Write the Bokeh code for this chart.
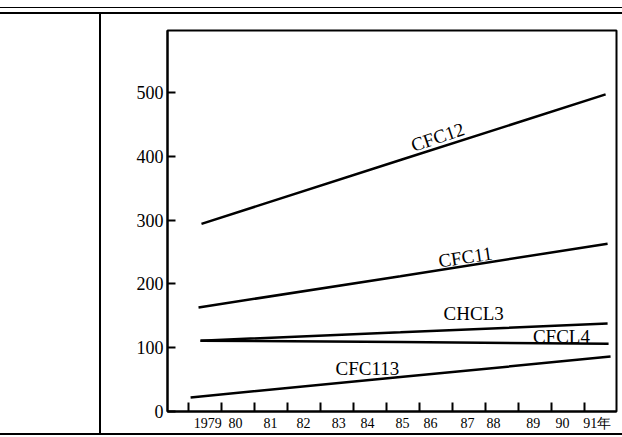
from bokeh.plotting import figure
from bokeh.models import FixedTicker, Div, ColumnDataSource
from bokeh.layouts import column, row
from bokeh.core.properties import value
from bokeh.embed import file_html
from bokeh.resources import INLINE

# ---- data ----
years = [1979, 1980, 1981, 1982, 1983, 1984, 1985, 1986, 1987, 1988, 1989, 1990, 1991]
year_label_pos = [1979.58, 1980.42, 1981.48, 1982.48, 1983.55, 1984.42, 1985.48,
                  1986.33, 1987.45, 1988.24, 1989.45, 1990.33, 1991.39]
year_labels = ["1979", "80", "81", "82", "83", "84", "85", "86", "87", "88", "89", "90", "91年"]
y_ticks = [0, 100, 200, 300, 400, 500]

cfc12_x = [1979.39, 1985.42, 1991.64]
cfc12_y = [294, 394, 497]
cfc11_x = [1979.30, 1985.42, 1991.70]
cfc11_y = [163, 212, 263]
chcl3_x = [1979.36, 1985.42, 1991.70]
chcl3_y = [111, 124, 138]
cfcl4_x = [1979.36, 1985.42, 1991.73]
cfcl4_y = [111, 109, 106]
cfc113_x = [1979.06, 1985.42, 1991.79]
cfc113_y = [22, 54, 86]

label_names = ["CFC12", "CFC11", "CHCL3", "CFCL4", "CFC113"]
label_x = [1986.55, 1987.39, 1987.64, 1990.30, 1984.42]
label_y = [430, 242, 153, 117, 67]
label_angle = [0.33, 0.15, 0.0, 0.0, 0.0]

SERIF = "Liberation Serif"

p = figure(width=521, height=419, x_range=(1978.36, 1991.97), y_range=(0, 597),
           output_backend="svg", toolbar_location=None,
           min_border_left=66, min_border_right=6, min_border_top=16, min_border_bottom=21)
p.margin = 0
p.grid.visible = False
p.outline_line_color = "black"
p.outline_line_width = 2
p.background_fill_color = "white"
p.border_fill_color = "white"

# y axis
ya = p.yaxis[0]
ya.ticker = FixedTicker(ticks=y_ticks)
ya.axis_line_width = 2
ya.major_tick_in = 8
ya.major_tick_out = 0
ya.major_tick_line_width = 2
ya.minor_tick_line_color = None
ya.major_label_text_font = SERIF
ya.major_label_text_font_size = "18px"
ya.major_label_text_color = "black"
ya.major_label_standoff = 4

# x axis: minor ticks = year marks, major ticks = label positions
xa = p.xaxis[0]
xa.ticker = FixedTicker(ticks=year_label_pos, minor_ticks=years)
xa.axis_line_width = 2
xa.major_tick_in = 0
xa.major_tick_out = 0
xa.major_tick_line_color = None
xa.minor_tick_in = 9
xa.minor_tick_out = 0
xa.minor_tick_line_width = 2
xa.minor_tick_line_color = "black"
xa.major_label_overrides = {pos: lab for pos, lab in zip(year_label_pos, year_labels)}
xa.major_label_text_font = SERIF
xa.major_label_text_font_size = "14px"
xa.major_label_text_color = "black"
xa.major_label_standoff = 4

for xs, ys in [(cfc12_x, cfc12_y), (cfc11_x, cfc11_y), (chcl3_x, chcl3_y),
               (cfcl4_x, cfcl4_y), (cfc113_x, cfc113_y)]:
    p.line(xs, ys, line_color="black", line_width=2.5)

src = ColumnDataSource(dict(x=label_x, y=label_y, t=label_names, a=label_angle))
p.text(x="x", y="y", text="t", angle="a", source=src, text_font=value(SERIF),
       text_font_size="19px", text_align="center", text_baseline="middle",
       text_color="black")

top = Div(text="", width=622, height=7, margin=(7, 0, 0, 0),
          styles={"border-top": "1px solid black", "border-bottom": "2px solid black",
                  "box-sizing": "border-box"})
left = Div(text="", width=101, height=419, margin=0,
           styles={"border-right": "2px solid black", "box-sizing": "border-box"})
bottom = Div(text="", width=622, height=4, margin=0,
             styles={"border-top": "2px solid black", "box-sizing": "border-box"})

layout = column(top, row(left, p, spacing=0), bottom, spacing=0)

open("out.html", "w").write(file_html(layout, INLINE))
